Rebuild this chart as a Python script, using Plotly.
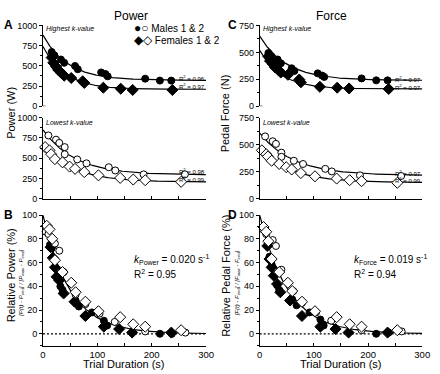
import numpy as np
import plotly.graph_objects as go

# ---------------- data ----------------
# trial durations (s)
t_m1 = [16, 21, 33, 39, 59, 64, 107, 115, 119, 188, 215, 236]
t_f1 = [16, 19, 24, 28, 34, 39, 52, 73, 76, 111, 143, 165, 238]
t_m2 = [10, 24, 30, 40, 40, 63, 80, 121, 133, 185, 261]
t_f2 = [4, 12, 15, 22, 36, 49, 59, 76, 102, 142, 166, 188, 254]

# power (W)
P_m1 = [671, 630, 578, 538, 498, 458, 418, 398, 370, 341, 317, 317]
P_f1 = [602, 538, 490, 450, 410, 378, 349, 309, 289, 229, 217, 201, 201]
P_m2 = [780, 728, 688, 636, 548, 484, 436, 388, 348, 300, 300]
P_f2 = [636, 596, 548, 488, 448, 396, 368, 328, 288, 256, 236, 228, 208]

# pedal force (N)
F_m1 = [494, 464, 434, 398, 352, 328, 305, 285, 272, 258, 240, 240]
F_f1 = [462, 420, 392, 362, 338, 313, 292, 248, 222, 180, 172, 165, 160]
F_m2 = [576, 531, 507, 426, 387, 351, 321, 276, 252, 216, 210]
F_f2 = [447, 411, 390, 351, 321, 291, 270, 237, 207, 186, 171, 162, 147]

# exponential fits: [start value, end value, k]
fit_P_m1 = [880, 320, 0.022]
fit_P_f1 = [740, 210, 0.025]
fit_P_m2 = [850, 292, 0.017]
fit_P_f2 = [668, 205, 0.018]
fit_F_m1 = [650, 240, 0.020]
fit_F_f1 = [518, 160, 0.025]
fit_F_m2 = [606, 215, 0.016]
fit_F_f2 = [480, 150, 0.018]
R2_P = ["0.96", "0.97", "0.98", "0.99"]
R2_F = ["0.97", "0.97", "0.97", "0.99"]

# relative power (%)
rp_t_m1 = [13, 16, 20, 28, 32, 36, 60, 66, 90, 112, 118, 215, 237]
rp_y_m1 = [75, 72, 63, 47, 40, 37, 28, 23, 18, 11, 7, 0, 0]
rp_t_f1 = [14, 18, 22, 25, 30, 38, 58, 78, 112, 140, 164, 236]
rp_y_f1 = [73, 64, 56, 48, 45, 34, 27, 15, 6, 4, 1, 1]
rp_t_m2 = [5, 10, 22, 30, 38, 60, 78, 104, 132, 188, 262]
rp_y_m2 = [86, 84, 76, 70, 52, 33, 25, 17, 10, 2, 1]
rp_t_f2 = [7, 12, 17, 22, 36, 52, 60, 78, 102, 142, 166, 188, 254]
rp_y_f2 = [91, 88, 80, 62, 52, 43, 35, 27, 19, 14, 8, 6, 3]
k_power = 0.020
R2_power = "0.95"

# relative pedal force (%)
rf_t_m1 = [15, 18, 22, 28, 32, 36, 60, 68, 92, 112, 118, 215, 238]
rf_y_m1 = [76, 65, 57, 49, 41, 37, 29, 24, 18, 12, 7, 0, 1]
rf_t_f1 = [14, 18, 22, 26, 32, 38, 56, 78, 112, 140, 164, 236]
rf_y_f1 = [74, 63, 56, 49, 42, 35, 28, 15, 6, 4, 1, 1]
rf_t_m2 = [6, 12, 24, 30, 40, 62, 78, 104, 132, 188, 262]
rf_y_m2 = [88, 84, 79, 74, 54, 36, 26, 18, 11, 3, 2]
rf_t_f2 = [7, 12, 16, 22, 36, 52, 60, 78, 102, 142, 166, 188, 254]
rf_y_f2 = [90, 86, 78, 63, 52, 43, 36, 27, 19, 14, 8, 6, 3]
k_force = 0.019
R2_force = "0.94"

# ---------------- layout helpers ----------------
W, H = 440, 374
FONT = "Arial, Liberation Sans, sans-serif"


def px(x):
    return x / W


def py(y):
    return 1 - y / H


X_L = [px(41), px(208.3)]
X_R = [px(263.3), px(430)]
Y_TOP = [py(104), py(21)]
Y_MID = [py(199), py(115.7)]
Y_BOT = [py(350), py(215.9)]

fig = go.Figure()
t_curve = np.linspace(0, 300, 301)


def curve(p):
    s, e, k = p
    return e + (s - e) * np.exp(-k * t_curve)


def add_markers(t, y, xa, ya, symbol, filled):
    fig.add_trace(go.Scatter(
        x=t, y=y, mode="markers", xaxis=xa, yaxis=ya, cliponaxis=False,
        marker=dict(symbol=symbol, size=7 if symbol == "circle" else 8.5,
                    color="black" if filled else "white",
                    line=dict(color="black", width=1)),
        showlegend=False, hoverinfo="skip"))


def add_line(y, xa, ya, dash="solid"):
    fig.add_trace(go.Scatter(
        x=t_curve if len(y) == len(t_curve) else [0, 300], y=y, mode="lines",
        xaxis=xa, yaxis=ya, line=dict(color="black", width=1.2, dash=dash),
        showlegend=False, hoverinfo="skip"))


# panel A top (highest k)
add_line(curve(fit_P_m1), "x", "y")
add_line(curve(fit_P_f1), "x", "y")
add_markers(t_m1, P_m1, "x", "y", "circle", True)
add_markers(t_f1, P_f1, "x", "y", "diamond", True)
# panel A bottom (lowest k)
add_line(curve(fit_P_m2), "x2", "y2")
add_line(curve(fit_P_f2), "x2", "y2")
add_markers(t_m2, P_m2, "x2", "y2", "circle", False)
add_markers(t_f2, P_f2, "x2", "y2", "diamond", False)
# panel B
add_line([0, 0], "x3", "y3", dash="2px,2px")
add_line(100 * np.exp(-k_power * t_curve), "x3", "y3")
add_markers(rp_t_m1, rp_y_m1, "x3", "y3", "circle", True)
add_markers(rp_t_f1, rp_y_f1, "x3", "y3", "diamond", True)
add_markers(rp_t_m2, rp_y_m2, "x3", "y3", "circle", False)
add_markers(rp_t_f2, rp_y_f2, "x3", "y3", "diamond", False)
# panel C top
add_line(curve(fit_F_m1), "x4", "y4")
add_line(curve(fit_F_f1), "x4", "y4")
add_markers(t_m1, F_m1, "x4", "y4", "circle", True)
add_markers(t_f1, F_f1, "x4", "y4", "diamond", True)
# panel C bottom
add_line(curve(fit_F_m2), "x5", "y5")
add_line(curve(fit_F_f2), "x5", "y5")
add_markers(t_m2, F_m2, "x5", "y5", "circle", False)
add_markers(t_f2, F_f2, "x5", "y5", "diamond", False)
# panel D
add_line([0, 0], "x6", "y6", dash="2px,2px")
add_line(100 * np.exp(-k_force * t_curve), "x6", "y6")
add_markers(rf_t_m1, rf_y_m1, "x6", "y6", "circle", True)
add_markers(rf_t_f1, rf_y_f1, "x6", "y6", "diamond", True)
add_markers(rf_t_m2, rf_y_m2, "x6", "y6", "circle", False)
add_markers(rf_t_f2, rf_y_f2, "x6", "y6", "diamond", False)

tickfont_y = dict(family=FONT, size=9, color="black")
tickfont_x = dict(family=FONT, size=9.5, color="black")


def yaxis(domain, anchor, rng, dtick, minor_dtick):
    return dict(domain=domain, anchor=anchor, range=rng, showgrid=False,
                zeroline=False, showline=True, linecolor="black", linewidth=1,
                ticks="outside", ticklen=3, tickwidth=1, tickcolor="black",
                dtick=dtick, tick0=0, tickfont=tickfont_y,
                minor=dict(ticks="outside", ticklen=2, dtick=minor_dtick,
                           tickcolor="black", showgrid=False),
                fixedrange=True)


def xaxis_hidden(domain, anchor):
    return dict(domain=domain, anchor=anchor, range=[0, 300], visible=False,
                fixedrange=True)


def xaxis_mid(domain, anchor):
    return dict(domain=domain, anchor=anchor, range=[0, 300], showgrid=False,
                zeroline=False, showline=True, linecolor="black", linewidth=1,
                ticks="inside", ticklen=3, tickcolor="black", dtick=50,
                showticklabels=False, fixedrange=True)


def xaxis_bot(domain, anchor):
    return dict(domain=domain, anchor=anchor, range=[0, 300], showgrid=False,
                zeroline=False, showline=True, linecolor="black", linewidth=1,
                ticks="inside", ticklen=3, tickcolor="black", dtick=100,
                tickfont=tickfont_x, ticklabelstandoff=0,
                minor=dict(ticks="inside", ticklen=3, dtick=50,
                           tickcolor="black", showgrid=False),
                fixedrange=True)


fig.update_layout(
    width=W, height=H, margin=dict(l=0, r=0, t=0, b=0),
    paper_bgcolor="white", plot_bgcolor="white", showlegend=False,
    font=dict(family=FONT, color="black"),
    xaxis=xaxis_hidden(X_L, "y"),
    yaxis=yaxis(Y_TOP, "x", [0, 1000], 250, 125),
    xaxis2=xaxis_mid(X_L, "y2"),
    yaxis2=yaxis(Y_MID, "x2", [0, 1000], 250, 125),
    xaxis3=xaxis_bot(X_L, "y3"),
    yaxis3=yaxis(Y_BOT, "x3", [-10, 100], 20, 10),
    xaxis4=xaxis_hidden(X_R, "y4"),
    yaxis4=yaxis(Y_TOP, "x4", [0, 750], 250, 125),
    xaxis5=xaxis_mid(X_R, "y5"),
    yaxis5=yaxis(Y_MID, "x5", [0, 750], 250, 125),
    xaxis6=xaxis_bot(X_R, "y6"),
    yaxis6=yaxis(Y_BOT, "x6", [-10, 100], 20, 10),
)

# short stubs at the base of the top panels
for xr, yr in (("x", "y"), ("x4", "y4")):
    fig.add_shape(type="line", xref=xr, yref=yr, x0=0, x1=5, y0=0, y1=0,
                  line=dict(color="black", width=1))

ann = []


def text(x, y, s, size=10, xanchor="left", yanchor="middle", angle=0,
         xref="paper", yref="paper"):
    ann.append(dict(x=x, y=y, xref=xref, yref=yref, text=s, showarrow=False,
                    xanchor=xanchor, yanchor=yanchor, textangle=angle,
                    borderpad=0,
                    font=dict(family=FONT, size=size, color="black")))


# titles & panel letters
text(px(131), py(11), "Power", 12, "center")
text(px(337), py(11), "Force", 12, "center")
for lab, xx, yy in (("A", 0, 21), ("B", 0, 216), ("C", 230, 21), ("D", 230, 216)):
    text(px(xx), py(yy), "<b>%s</b>" % lab, 12)

# k-value labels
for xx in (43, 265.5):
    text(px(xx), py(25), "<i>Highest k-value</i>", 7)
    text(px(xx), py(121), "<i>Lowest k-value</i>", 7)

# legend
GL = '<span style="font-size:12px">%s</span>'
text(px(133), py(24), (GL % "●○") + " Males 1 &amp; 2", 10)
text(px(133), py(36), (GL % "◆◇") + " Females 1 &amp; 2", 10)

# R² labels
for r2, xx, yy in ((R2_P[0], 208, 75.5), (R2_P[1], 208, 83),
                   (R2_P[2], 208, 171), (R2_P[3], 208, 179),
                   (R2_F[0], 430, 76), (R2_F[1], 430, 84),
                   (R2_F[2], 430, 172.5), (R2_F[3], 430, 180)):
    text(px(xx), py(yy), "R<sup>2</sup> = %s" % r2, 6, "right")

# k and R² for relative panels
text(px(133), py(262), "<i>k</i><sub>Power</sub> = %.3f s<sup>-1</sup>" % k_power, 10)
text(px(133), py(276), "R<sup>2</sup> = %s" % R2_power, 10)
text(px(359), py(262), "<i>k</i><sub>Force</sub> = %.3f s<sup>-1</sup>" % k_force, 10)
text(px(359), py(276), "R<sup>2</sup> = %s" % R2_force, 10)

# x-axis titles
text(px(124.6), py(368.5), "Trial Duration (s)", 11, "center")
text(px(346.7), py(368.5), "Trial Duration (s)", 11, "center")

# y-axis titles
text(px(8), py(111), "Power (W)", 11, "center", angle=-90)
text(px(228), py(111), "Pedal Force (N)", 11, "center", angle=-90)
text(px(8), py(278), "Relative Power (%)", 11, "center", angle=-90)
text(px(19), py(286),
     "<i>[P(t) - P<sub>end</sub>] / [P<sub>max</sub> - P<sub>end</sub>]</i>",
     6, "center", angle=-90)
text(px(228), py(278), "Relative Pedal Force (%)", 11, "center", angle=-90)
text(px(240), py(286),
     "<i>[F(t) - F<sub>end</sub>] / [F<sub>max</sub> - F<sub>end</sub>]</i>",
     6, "center", angle=-90)

fig.update_layout(annotations=ann)
fig.write_html("out.html", config={"displayModeBar": False},
               post_script="document.body.style.margin='0';document.body.style.overflow='hidden';")
